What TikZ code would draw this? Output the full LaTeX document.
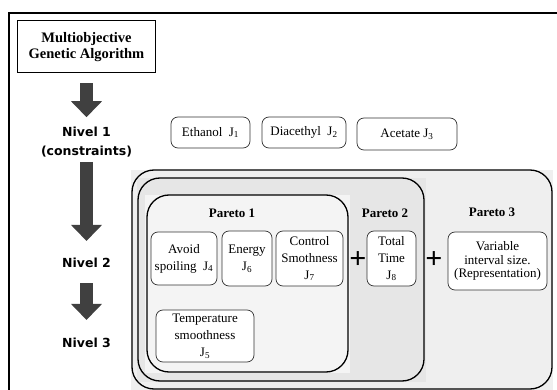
\documentclass[tikz,border=0pt]{standalone}
\usepackage{fontspec}
\setmainfont{Liberation Serif}
\newfontfamily\nivelfont{DejaVu Sans}
\usetikzlibrary{arrows.meta, positioning}
\definecolor{arrowgray}{RGB}{64,64,64}
\definecolor{outerfill}{RGB}{239,239,239}
\definecolor{midfill}{RGB}{230,230,230}
\definecolor{innerfill}{RGB}{244,244,244}

\begin{document}
\begin{tikzpicture}[x=1pt, y=-1pt,
    mgabox/.style={draw, line width=1pt, minimum width=138pt, minimum height=52pt,
                   align=center, font=\fontsize{14.5}{16}\selectfont\bfseries},
    level/.style={align=center, inner sep=0pt, font=\nivelfont\bfseries\fontsize{12.5}{19}\selectfont},
    objbox/.style={draw=black!80, line width=0.7pt, rounded corners=7pt, fill=white,
                   align=center, inner sep=1pt, font=\fontsize{13}{17}\selectfont},
    paretolabel/.style={font=\fontsize{13}{15}\selectfont\bfseries},
    plussign/.style={inner sep=0pt, font=\fontsize{30}{30}\selectfont\bfseries},
    blockarrow/.style={draw=arrowgray, line width=13pt, -{Triangle[width=30pt,length=16pt]}},
    pareto/.style={draw, line width=1.3pt, rounded corners=22pt}
]
    \useasboundingbox (0,0) rectangle (557,390);
    % frame
    \draw[line width=1.2pt] (9,390) -- (9,13) -- (557,13);

    % Algorithm and levels
    \node[mgabox] (mga) at (86.5,47) {Multiobjective\\Genetic Algorithm};
    \node[level] (lvlone) at (86.5,142) {Nivel 1\\(constraints)};
    \node[level] (lvltwo) at (86.5,263) {Nivel 2};
    \node[level] (lvlthree) at (86.5,343) {Nivel 3};

    \draw[blockarrow, shorten <=10pt, shorten >=9.5pt] (mga) -- (lvlone);
    \draw[blockarrow, shorten <=4.5pt, shorten >=17pt] (lvlone) -- (lvltwo);
    \draw[blockarrow, shorten <=15pt, shorten >=18pt] (lvltwo) -- (lvlthree);

    % Constraints
    \node[objbox, minimum width=79pt, minimum height=31pt] (ethanol) at (210.5,132.5) {Ethanol~~J\textsubscript{1}};
    \node[objbox, minimum width=84pt, minimum height=31pt] (diacethyl) at (304,132.5) {Diacethyl~~J\textsubscript{2}};
    \node[objbox, minimum width=100pt, minimum height=32pt] (acetate) at (407,134) {Acetate J\textsubscript{3}};

    % Pareto regions
    \fill[outerfill] (131,170) rectangle (553,390);
    \fill[midfill] (137,178) rectangle (426,382);
    \fill[innerfill] (145,195) rectangle (350,373);
    \draw[pareto] (132,170) rectangle (552,389);
    \draw[pareto] (138,178) rectangle (424,381);
    \draw[pareto] (147,195) rectangle (348,372);

    \node[paretolabel] (ponelabel) at (232,213) {Pareto 1};
    \node[paretolabel] (ptwolabel) at (385,213) {Pareto 2};
    \node[paretolabel] (pthreelabel) at (492,212) {Pareto 3};

    % Objectives
    \node[objbox, minimum width=66pt, minimum height=53pt] (spoil) at (184,258.5) {Avoid\\spoiling~~J\textsubscript{4}};
    \node[objbox, minimum width=50pt, minimum height=55pt] (energy) at (247,258.5) {Energy\\J\textsubscript{6}};
    \node[objbox, minimum width=67pt, minimum height=55pt] (smooth) at (309.5,258.5) {Control\\Smothness\\J\textsubscript{7}};
    \node[objbox, minimum width=49pt, minimum height=55pt] (time) at (391.5,258.5) {Total\\Time\\J\textsubscript{8}};
    \node[objbox, minimum width=99pt, minimum height=58pt, font=\fontsize{13}{13.5}\selectfont] (interval) at (497.5,261) {Variable\\interval size.\\(Representation)};
    \node[objbox, minimum width=98pt, minimum height=52pt] (temp) at (205,336) {Temperature\\smoothness\\J\textsubscript{5}};

    \node[plussign] (plusone) at (358,260) {+};
    \node[plussign] (plustwo) at (434,260) {+};
\end{tikzpicture}
\end{document}
